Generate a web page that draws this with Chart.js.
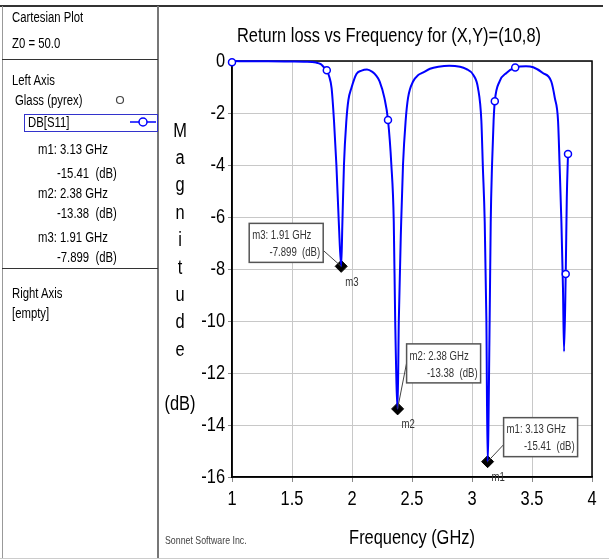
<!DOCTYPE html>
<html>
<head>
<meta charset="utf-8">
<script src="https://cdn.jsdelivr.net/npm/chart.js@4.4.0/dist/chart.umd.min.js"></script>
<style>
  html, body { margin: 0; padding: 0; background: #fff; }
  body { width: 609px; height: 559px; position: relative; overflow: hidden;
         font-family: 'Liberation Sans', Arial, sans-serif; }
  #chart { position: absolute; left: 0; top: 0; }
  .line { position: absolute; }
  .t { position: absolute; font-size: 14px; line-height: 16px; color: #000; white-space: pre;
       transform: scaleX(0.81); transform-origin: left center; }
  .sel { position: absolute; left: 24px; top: 114px; width: 132px; height: 16px; border: 1px solid #3333cc; }
</style>
</head>
<body>
<canvas id="chart" width="609" height="559"></canvas>

<!-- left info panel -->
<div class="line" style="left:0;top:5px;width:603px;border-top:2px solid #333;"></div>
<div class="line" style="left:2px;top:6px;height:552px;border-left:1px solid #999;"></div>
<div class="line" style="left:157px;top:6px;height:552px;border-left:2px solid #777;"></div>
<div class="line" style="left:0;top:558px;width:609px;border-top:1px solid #ccc;"></div>
<div class="line" style="left:2px;top:59px;width:156px;border-top:1px solid #333;"></div>
<div class="line" style="left:2px;top:268px;width:156px;border-top:1px solid #333;"></div>

<div class="t" style="left:12px;top:9px;">Cartesian Plot</div>
<div class="t" style="left:12px;top:35px;">Z0 = 50.0</div>
<div class="t" style="left:12px;top:72px;">Left Axis</div>
<div class="t" style="left:15px;top:92px;">Glass (pyrex)</div>
<svg class="line" style="left:114px;top:94px;" width="12" height="12"><circle cx="6" cy="6" r="3.5" fill="#fff" stroke="#444" stroke-width="1.2"/></svg>
<div class="sel"></div>
<div class="t" style="left:28px;top:114px;">DB[S11]</div>
<svg class="line" style="left:130px;top:116px;" width="26" height="12"><line x1="0" y1="6" x2="26" y2="6" stroke="#0000ff" stroke-width="1.5"/><circle cx="13" cy="6" r="4" fill="#fff" stroke="#0000ff" stroke-width="1.5"/></svg>
<div class="t" style="left:38px;top:141px;">m1: 3.13 GHz</div>
<div class="t" style="left:57px;top:165px;">-15.41  (dB)</div>
<div class="t" style="left:38px;top:185px;">m2: 2.38 GHz</div>
<div class="t" style="left:57px;top:205px;">-13.38  (dB)</div>
<div class="t" style="left:38px;top:229px;">m3: 1.91 GHz</div>
<div class="t" style="left:57px;top:249px;">-7.899  (dB)</div>
<div class="t" style="left:12px;top:285px;">Right Axis</div>
<div class="t" style="left:12px;top:305px;">[empty]</div>

<script>
// swept response, DB[S11]
var freqGHz = [1.00, 1.02, 1.10, 1.30, 1.50, 1.60, 1.70, 1.74, 1.76, 1.79,
               1.81, 1.83, 1.85, 1.87, 1.89, 1.91, 1.92, 1.933, 1.953, 1.97,
               1.995, 2.037, 2.08, 2.125, 2.17, 2.20, 2.23, 2.27, 2.30, 2.328,
               2.348, 2.36, 2.38, 2.39, 2.41, 2.425, 2.447, 2.467, 2.51, 2.55,
               2.59, 2.65, 2.72, 2.81, 2.90, 2.95, 3.01, 3.05, 3.078, 3.09,
               3.106, 3.12, 3.13, 3.147, 3.156, 3.167, 3.18, 3.19, 3.23, 3.287,
               3.36, 3.45, 3.51, 3.59, 3.66, 3.69, 3.717, 3.73, 3.745, 3.758,
               3.767, 3.781, 3.79, 3.80];
var s11dB = [-0.05, 0.0, -0.01, -0.01, -0.02, -0.03, -0.06, -0.12, -0.21, -0.36,
             -0.6, -1.04, -2.3, -4.0, -6.2, -7.899, -6.2, -4.0, -2.3, -1.5,
             -1.04, -0.5, -0.37, -0.33, -0.42, -0.55, -0.78, -1.42, -2.27, -4.0,
             -6.17, -10.0, -13.38, -10.0, -6.17, -4.0, -2.3, -1.42, -0.78, -0.55,
             -0.45, -0.3, -0.22, -0.18, -0.22, -0.3, -0.53, -1.04, -2.3, -4.0,
             -6.2, -10.0, -15.41, -10.0, -6.2, -4.0, -2.3, -1.55, -0.78, -0.46,
             -0.25, -0.2, -0.24, -0.46, -0.78, -1.42, -2.3, -4.0, -6.2, -8.7,
             -11.17, -8.19, -5.27, -3.58];
// sample points shown with a circle symbol
var symbolFreqs = [1.00, 1.79, 2.30, 3.19, 3.36, 3.781, 3.80];

var markerNames = ['m1', 'm2', 'm3'];
var markerFreqs = [3.13, 2.38, 1.91];
var markerDB = [-15.41, -13.38, -7.899];

var xTicks = [1, 1.5, 2, 2.5, 3, 3.5, 4];
var yTicks = [0, -2, -4, -6, -8, -10, -12, -14, -16];

var FONT = "'Liberation Sans', Arial, sans-serif";
var SQUEEZE = 0.82; // the original renders its text narrow

// where each marker's readout box sits relative to the marker (px)
var boxOffset = { m1: [16, -44], m2: [9, -65], m3: [-92, -43] };

var curvePts = freqGHz.map(function(f, i) { return { x: f, y: s11dB[i] }; });
var curveRadius = freqGHz.map(function(f) { return symbolFreqs.indexOf(f) >= 0 ? 3.5 : 0; });
var markerPts = markerFreqs.map(function(f, i) { return { x: f, y: markerDB[i] }; });

function narrowText(c, txt, x, y, size, align, color, sq) {
    c.save();
    c.translate(x, y);
    c.scale(sq || SQUEEZE, 1);
    c.font = size + 'px ' + FONT;
    c.textAlign = align;
    c.textBaseline = 'middle';
    c.fillStyle = color;
    c.fillText(txt, 0, 0);
    c.restore();
}

var decor = {
    id: 'decor',
    beforeDatasetsDraw: function(chart) {
        var c = chart.ctx, a = chart.chartArea;
        c.save();
        c.strokeStyle = '#000';
        c.lineWidth = 1.5;
        c.strokeRect(a.left, a.top, a.right - a.left, a.bottom - a.top);
        c.restore();
    },
    afterDatasetsDraw: function(chart) {
        var c = chart.ctx, a = chart.chartArea;
        var xs = chart.scales.x, ys = chart.scales.y;

        // tick labels
        xs.ticks.forEach(function(t) {
            narrowText(c, String(t.value), xs.getPixelForValue(t.value), 499, 20, 'center', '#000');
        });
        ys.ticks.forEach(function(t) {
            narrowText(c, String(t.value), a.left - 7, ys.getPixelForValue(t.value), 20, 'right', '#000');
        });

        // title
        narrowText(c, 'Return loss vs Frequency for (X,Y)=(10,8)', 389, 36, 20, 'center', '#000');

        // stacked y axis title
        var letters = ['M', 'a', 'g', 'n', 'i', 't', 'u', 'd', 'e'];
        letters.forEach(function(ch, i) { narrowText(c, ch, 180, 131 + i * 27.4, 20, 'center', '#000'); });
        narrowText(c, '(dB)', 180, 404, 20, 'center', '#000');

        // x axis title
        narrowText(c, 'Frequency (GHz)', (a.left + a.right) / 2, 538, 20, 'center', '#000');

        narrowText(c, 'Sonnet Software Inc.', 165, 541, 11, 'left', '#444', 0.8);

        // marker readouts
        markerNames.forEach(function(name, i) {
            var px = xs.getPixelForValue(markerFreqs[i]);
            var py = ys.getPixelForValue(markerDB[i]);
            var bx = px + boxOffset[name][0], by = py + boxOffset[name][1];
            var bw = 74, bh = 39;
            var lx = name === 'm3' ? bx + bw : bx;
            var ly = name === 'm2' ? by + 19 : by + 27;
            c.save();
            c.strokeStyle = '#444';
            c.lineWidth = 1;
            c.beginPath();
            c.moveTo(lx, ly);
            c.lineTo(px, py);
            c.stroke();
            c.fillStyle = '#fff';
            c.fillRect(bx, by, bw, bh);
            c.strokeStyle = '#555';
            c.lineWidth = 1.5;
            c.strokeRect(bx, by, bw, bh);
            c.restore();
            narrowText(c, name + ': ' + markerFreqs[i].toFixed(2) + ' GHz', bx + 3, by + 12.5, 12, 'left', '#333', 0.8);
            var v = name === 'm3' ? markerDB[i].toFixed(3) : markerDB[i].toFixed(2);
            narrowText(c, v + '  (dB)', bx + bw - 3, by + 29.5, 12, 'right', '#333', 0.8);
            narrowText(c, name, px + 4, py + 16, 12, 'left', '#333', 0.8);
        });
    }
};

var ctx = document.getElementById('chart').getContext('2d');
var chart = new Chart(ctx, {
    type: 'scatter',
    data: {
        datasets: [{
            label: 'DB[S11]',
            data: curvePts,
            showLine: true,
            cubicInterpolationMode: 'monotone',
            borderColor: '#0000ff',
            borderWidth: 2,
            pointRadius: curveRadius,
            pointBackgroundColor: '#fff',
            pointBorderColor: '#0000ff',
            pointBorderWidth: 1.5,
            clip: false
        }, {
            label: 'markers',
            data: markerPts,
            showLine: false,
            pointStyle: 'rectRot',
            pointRadius: 6,
            pointBackgroundColor: '#000',
            pointBorderColor: '#000',
            clip: false
        }]
    },
    options: {
        responsive: false,
        animation: false,
        devicePixelRatio: 1,
        layout: { padding: { top: 61, right: 17, bottom: 0, left: 0 } },
        plugins: { legend: { display: false }, tooltip: { enabled: false } },
        scales: {
            x: {
                type: 'linear', min: 1, max: 4,
                afterFit: function(s) { s.height = 82; },
                afterBuildTicks: function(s) { s.ticks = xTicks.map(function(v) { return { value: v }; }); },
                grid: { color: '#c8c8c8', lineWidth: 1, tickLength: 5, tickColor: '#888' },
                border: { color: '#000', width: 1.5 },
                ticks: { display: false }
            },
            y: {
                type: 'linear', min: -16, max: 0,
                afterFit: function(s) { s.width = 232; },
                afterBuildTicks: function(s) { s.ticks = yTicks.map(function(v) { return { value: v }; }); },
                grid: { color: '#c8c8c8', lineWidth: 1, tickLength: 4, tickColor: '#888' },
                border: { color: '#000', width: 1.5 },
                ticks: { display: false }
            }
        }
    },
    plugins: [decor]
});
</script>
</body>
</html>
